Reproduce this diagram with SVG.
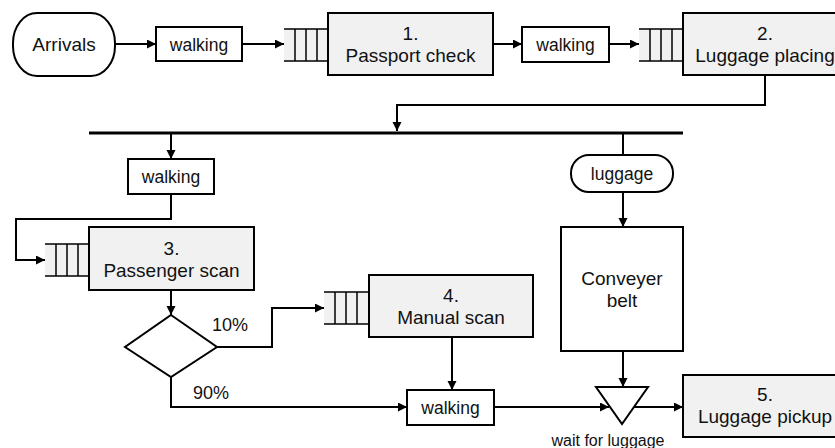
<svg xmlns="http://www.w3.org/2000/svg" width="835" height="448" viewBox="0 0 835 448">
  <defs>
    <marker id="arrow" markerUnits="userSpaceOnUse" markerWidth="10" markerHeight="10" refX="9" refY="4.5" orient="auto">
      <path d="M0,0 L9,4.5 L0,9 Z" fill="#000"/>
    </marker>
    <!-- waiting queue in front of a station: open left end, four cells -->
    <g id="queue">
      <rect x="0" y="0" width="44" height="32" fill="#f1f1f1" stroke="none"/>
      <path d="M0,0 H44 M0,32 H44 M11,0 V32 M22,0 V32 M33,0 V32" fill="none" stroke="#000" stroke-width="1.5"/>
    </g>
  </defs>
  <style>
    .station { fill: #f1f1f1; stroke: #000; stroke-width: 2; }
    .plain { fill: #fff; stroke: #000; stroke-width: 2; }
    .lbl { font-family: "Liberation Sans", Arial, sans-serif; font-size: 19px; fill: #111; text-anchor: middle; }
    .lc { font-family: "Liberation Sans", Arial, sans-serif; font-size: 17.5px; fill: #111; text-anchor: middle; }
    .small { font-family: "Liberation Sans", Arial, sans-serif; font-size: 16px; fill: #111; text-anchor: middle; }
    .pct { font-family: "Liberation Sans", Arial, sans-serif; font-size: 18px; fill: #111; }
    .edge { fill: none; stroke: #000; stroke-width: 2; }
    .arr { marker-end: url(#arrow); }
    .bus { fill: none; stroke: #000; stroke-width: 3; }
  </style>

  <!-- connectors -->
  <g id="connectors">
    <path class="edge arr" d="M115,44 H156"/>
    <path class="edge arr" d="M242,44 H284"/>
    <path class="edge arr" d="M493,44 H522"/>
    <path class="edge arr" d="M609,44 H639"/>
    <path class="edge arr" d="M765,75 V105 H397 V131"/>
    <path class="bus" d="M89,133 H683"/>
    <path class="edge arr" d="M171,134 V159"/>
    <path class="edge arr" d="M171,194 V219 H16 V260 H45"/>
    <path class="edge arr" d="M171,290 V315"/>
    <path class="edge arr" d="M217,347 H272 V308 H324"/>
    <path class="edge arr" d="M171,377 V407 H407"/>
    <path class="edge arr" d="M452,337 V390"/>
    <path class="edge arr" d="M494,407 H609"/>
    <path class="edge" d="M623,134 V155"/>
    <path class="edge arr" d="M623,192 V227"/>
    <path class="edge arr" d="M623,351 V387"/>
    <path class="edge arr" d="M634,407 H683"/>
  </g>

  <!-- Arrivals -->
  <g id="arrivals">
    <rect class="plain" x="13" y="13" width="102" height="63" rx="24" ry="30"/>
    <text class="lbl" x="64" y="51">Arrivals</text>
  </g>

  <g id="walking-1">
    <rect class="plain" x="156" y="27" width="86" height="34"/>
    <text class="lc" x="199" y="51">walking</text>
  </g>

  <g id="station-1">
    <use href="#queue" x="284" y="29"/>
    <rect class="station" x="328" y="13" width="165" height="62"/>
    <text class="lbl" x="410.5" y="40">1.</text>
    <text class="lbl" x="410.5" y="62">Passport check</text>
  </g>

  <g id="walking-2">
    <rect class="plain" x="522" y="27" width="87" height="35"/>
    <text class="lc" x="565.5" y="51">walking</text>
  </g>

  <g id="station-2">
    <use href="#queue" x="639" y="29"/>
    <rect class="station" x="683" y="13" width="165" height="62"/>
    <text class="lbl" x="765" y="40">2.</text>
    <text class="lbl" x="765" y="62">Luggage placing</text>
  </g>

  <g id="walking-3">
    <rect class="plain" x="128" y="159" width="86" height="35"/>
    <text class="lc" x="171" y="183">walking</text>
  </g>

  <g id="station-3">
    <use href="#queue" x="45" y="244"/>
    <rect class="station" x="89" y="227" width="165" height="63"/>
    <text class="lbl" x="171.5" y="255">3.</text>
    <text class="lbl" x="171.5" y="277">Passenger scan</text>
  </g>

  <g id="decision">
    <path class="plain" d="M171,315 L217,347 L171,377 L125,347 Z"/>
    <text class="pct" x="212" y="331">10%</text>
    <text class="pct" x="193" y="399">90%</text>
  </g>

  <g id="station-4">
    <use href="#queue" x="324" y="292"/>
    <rect class="station" x="369" y="275" width="164" height="62"/>
    <text class="lbl" x="451" y="302">4.</text>
    <text class="lbl" x="451" y="324">Manual scan</text>
  </g>

  <g id="walking-4">
    <rect class="plain" x="407" y="390" width="87" height="35"/>
    <text class="lc" x="450.5" y="414">walking</text>
  </g>

  <g id="luggage">
    <rect class="plain" x="571" y="155" width="102" height="37" rx="18" ry="18"/>
    <text class="lc" x="622" y="180">luggage</text>
  </g>

  <g id="conveyer">
    <rect class="plain" x="561" y="227" width="122" height="124"/>
    <text class="lbl" x="622" y="285">Conveyer</text>
    <text class="lbl" x="622" y="307">belt</text>
  </g>

  <g id="wait">
    <path class="plain" d="M596,387 L648,387 L622,424 Z"/>
    <text class="small" x="608" y="446">wait for luggage</text>
  </g>

  <g id="station-5">
    <rect class="station" x="683" y="375" width="165" height="62"/>
    <text class="lbl" x="765" y="401">5.</text>
    <text class="lbl" x="765" y="423">Luggage pickup</text>
  </g>
</svg>
